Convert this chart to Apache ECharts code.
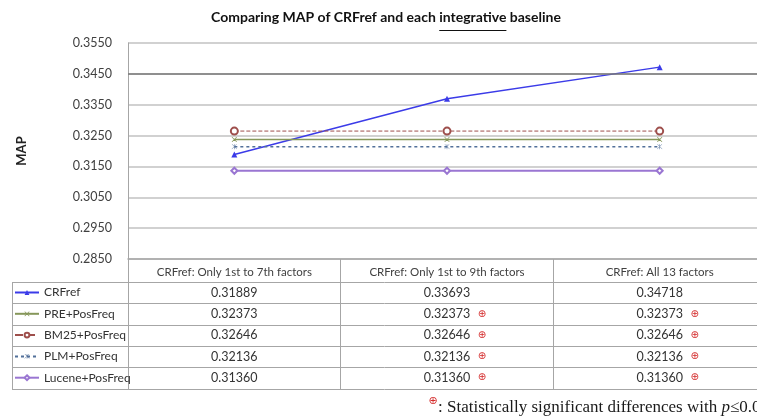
<!DOCTYPE html>
<html><head><meta charset="utf-8">
<script src="https://cdn.jsdelivr.net/npm/echarts@6/dist/echarts.min.js"></script>
<style>html,body{margin:0;padding:0;background:#fff}#c{width:757px;height:419px}</style>
</head><body><div id="c"></div>
<script>
// ---- data ----
const categories = ['CRFref: Only 1st to 7th factors', 'CRFref: Only 1st to 9th factors', 'CRFref: All 13 factors'];
const seriesNames = ['CRFref', 'PRE+PosFreq', 'BM25+PosFreq', 'PLM+PosFreq', 'Lucene+PosFreq'];
const crfref = [0.31889, 0.33693, 0.34718];
const prePosFreq = [0.32373, 0.32373, 0.32373];
const bm25PosFreq = [0.32646, 0.32646, 0.32646];
const plmPosFreq = [0.32136, 0.32136, 0.32136];
const lucenePosFreq = [0.31360, 0.31360, 0.31360];
const significant = [[0,0,0],[0,1,1],[0,1,1],[0,1,1],[0,1,1]];
const yMin = 0.285, yMax = 0.355, yInterval = 0.01;
const highlightLine = 0.345;
const titlePre = 'Comparing MAP of CRFref and each ';
const titleUnder = 'integrative';
const titlePost = ' baseline';
const yName = 'MAP';
const footnote = ': Statistically significant differences with ';

const allValues = [crfref, prePosFreq, bm25PosFreq, plmPosFreq, lucenePosFreq];
const FONT = 'Lato, "Noto Sans", sans-serif';

const styles = [
  {color:'#3b3be8', type:'solid', width:1.5, symbol:'triangle', size:6},
  {color:'#86975a', type:'solid', width:1.5, symbol:'path://M0,0L10,10M10,0L0,10M0,0L1,0L10,9L10,10L9,10L0,1Z M10,0L10,1L1,10L0,10L0,9L9,0Z', size:5},
  {color:'#9e4f4c', type:'dashed', width:1, symbol:'emptyCircle', size:7},
  {color:'#52709a', type:[3,3], width:1.5, symbol:'path://M0,0L10,10L10,9L1,0Z M10,0L0,10L0,9L9,0Z M4.5,0L5.5,0L5.5,10L4.5,10Z', size:5},
  {color:'#9a76d2', type:'solid', width:2, symbol:'emptyDiamond', size:6}
];

const chart = echarts.init(document.getElementById('c'), null, {renderer:'canvas'});

const series = seriesNames.map((n, i) => {
  const s = styles[i];
  const o = {
    name: n, type: 'line', data: allValues[i],
    symbol: s.symbol, symbolSize: s.size,
    itemStyle: {color: s.color, borderWidth: 1},
    lineStyle: {color: s.color, type: s.type, width: s.width},
    z: 3 + i
  };
  if (i === 0) {
    o.markLine = {silent:true, symbol:'none', precision: 4, label:{show:false},
      lineStyle:{color:'#7a7a7a', type:'solid', width:1.5},
      emphasis:{disabled:true}, animation:false,
      data:[{yAxis: highlightLine}]};
  }
  return o;
});

const option = {
  animation: false,
  textStyle: {fontFamily: FONT},
  grid: {left: 128, top: 43, width: 638, height: 216, containLabel: false, outerBoundsMode: 'none'},
  xAxis: {
    type: 'category', data: categories, boundaryGap: true,
    axisLine: {lineStyle: {color: '#a6a6a6', width: 1.5}},
    axisTick: {show: true, interval: 0, length: 130, lineStyle: {color: '#a6a6a6', width: 1}},
    axisLabel: {color: '#404040', fontSize: 11.5, margin: 7, fontFamily: FONT, interval: 0}
  },
  yAxis: {
    type: 'value', min: yMin, max: yMax, interval: yInterval,
    name: yName, nameLocation: 'middle', nameGap: 100, nameRotate: 90,
    nameTextStyle: {fontWeight: 'bold', fontSize: 13, color: '#222', fontFamily: FONT},
    axisLine: {show: true, lineStyle: {color: '#a6a6a6', width: 1}},
    axisTick: {show: false},
    axisLabel: {color: '#404040', fontSize: 12.5, margin: 16, fontFamily: FONT,
      formatter: v => v.toFixed(4)},
    splitLine: {lineStyle: {color: '#c2c2c2', width: 1.5}}
  },
  legend: {
    data: seriesNames, orient: 'vertical', left: 14, top: 285.5, padding: 0,
    itemWidth: 24, itemHeight: 6, itemGap: 7.3, itemStyle: {},
    textStyle: {fontSize: 12, lineHeight: 14, color: '#333', fontFamily: FONT},
    selectedMode: false
  },
  series: series
};
chart.setOption(option);

// ---- table & decorations ----
const ctx = document.createElement('canvas').getContext('2d');
function measure(t, font) { ctx.font = font; return ctx.measureText(t).width; }

const graphics = [];
const rowTop = 282, rowH = 21.3, tableLeft = 12, tableRight = 757;
for (let r = 0; r <= seriesNames.length; r++) {
  const y = Math.round(rowTop + r * rowH) + 0.5;
  graphics.push({type:'line', shape:{x1:tableLeft, y1:y, x2:tableRight, y2:y},
    style:{stroke:'#a6a6a6', lineWidth:1}, silent:true});
}
graphics.push({type:'line', shape:{x1:tableLeft+0.5, y1:rowTop+0.5, x2:tableLeft+0.5, y2:Math.round(rowTop+seriesNames.length*rowH)+0.5},
  style:{stroke:'#a6a6a6', lineWidth:1}, silent:true});

allValues.forEach((vals, i) => {
  const yc = rowTop + rowH * (i + 0.5);
  vals.forEach((v, j) => {
    const xc = chart.convertToPixel({xAxisIndex: 0}, j);
    graphics.push({type:'text', x: xc, y: yc, silent:true,
      style:{text: v.toFixed(5), fill:'#333', font: '12.5px ' + FONT, align:'center', verticalAlign:'middle'}});
    if (significant[i][j]) {
      graphics.push({type:'text', x: xc + 35, y: yc, silent:true,
        style:{text:'\u2295', fill:'#d42a2a', font:'10px "DejaVu Sans"', align:'center', verticalAlign:'middle'}});
    }
  });
});

// title with underline
const tFont = 'bold 14px ' + FONT;
const wPre = measure(titlePre, tFont), wU = measure(titleUnder, tFont), wPost = measure(titlePost, tFont);
const tLeft = 386 - (wPre + wU + wPost) / 2;
graphics.push({type:'text', x: tLeft, y: 17, silent:true,
  style:{text: titlePre + titleUnder + titlePost, fill:'#111', font: tFont, align:'left', verticalAlign:'middle'}});
graphics.push({type:'line', shape:{x1: tLeft + wPre, y1: 30.5, x2: tLeft + wPre + wU, y2: 30.5},
  style:{stroke:'#111', lineWidth:1}, silent:true});

// footnote
graphics.push({type:'text', x: 433, y: 401, silent:true,
  style:{text:'\u2295', fill:'#d42a2a', font:'11px "DejaVu Sans"', align:'center', verticalAlign:'middle'}});
graphics.push({type:'text', x: 438, y: 408, silent:true,
  style:{text: footnote + '{i|p}≤0.05', fill:'#1a1a1a', font:'17px "Liberation Serif"', align:'left', verticalAlign:'middle',
    rich:{i:{fontStyle:'italic', fontFamily:'Liberation Serif', fontSize:17, fill:'#1a1a1a'}}}});

chart.setOption({graphic: graphics});
</script></body></html>
